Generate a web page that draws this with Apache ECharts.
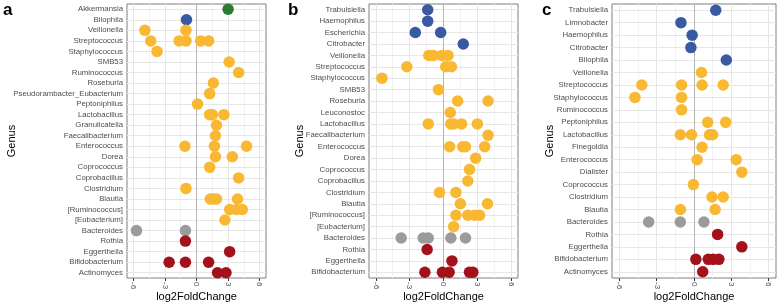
<!DOCTYPE html>
<html>
<head>
<meta charset="utf-8">
<script src="https://cdn.jsdelivr.net/npm/echarts@6/dist/echarts.min.js"></script>
<style>
  html, body { margin: 0; padding: 0; background: #fff; }
  #chart { width: 778px; height: 303px; }
</style>
</head>
<body>
<div id="chart"></div>
<script>
// x ticks shared by the three panels
const xTicks = [-6, -3, 0, 3, 6]
const xMinor = [-4.5, -1.5, 1.5, 4.5]

// panel a
const aGenus = ['Akkermansia', 'Bilophila', 'Veillonella', 'Streptococcus', 'Staphylococcus', 'SMB53',
  'Ruminococcus', 'Roseburia', 'Pseudorambacter_Eubacterium', 'Peptoniphilus', 'Lactobacillus',
  'Granulicatella', 'Faecalibacterium', 'Enterococcus', 'Dorea', 'Coprococcus', 'Coprobacillus',
  'Clostridium', 'Blautia', '[Ruminococcus]', '[Eubacterium]', 'Bacteroides', 'Rothia',
  'Eggerthella', 'Bifidobacterium', 'Actinomyces']
const aGreen = [[3.0, 'Akkermansia']]
const aBlue = [[-0.95, 'Bilophila']]
const aYellow = [
  [-4.9, 'Veillonella'], [-1.0, 'Veillonella'],
  [-4.35, 'Streptococcus'], [-1.65, 'Streptococcus'], [-1.0, 'Streptococcus'], [0.4, 'Streptococcus'], [1.15, 'Streptococcus'],
  [-3.75, 'Staphylococcus'],
  [3.1, 'SMB53'],
  [4.0, 'Ruminococcus'],
  [1.6, 'Roseburia'],
  [1.25, 'Pseudorambacter_Eubacterium'],
  [0.1, 'Peptoniphilus'],
  [1.25, 'Lactobacillus'], [1.5, 'Lactobacillus'], [2.6, 'Lactobacillus'],
  [1.9, 'Granulicatella'],
  [1.8, 'Faecalibacterium'],
  [-1.1, 'Enterococcus'], [1.7, 'Enterococcus'], [4.75, 'Enterococcus'],
  [1.8, 'Dorea'], [3.4, 'Dorea'],
  [1.25, 'Coprococcus'],
  [4.0, 'Coprobacillus'],
  [-1.0, 'Clostridium'],
  [1.3, 'Blautia'], [1.6, 'Blautia'], [1.9, 'Blautia'], [3.9, 'Blautia'],
  [3.15, '[Ruminococcus]'], [3.8, '[Ruminococcus]'], [4.35, '[Ruminococcus]'],
  [2.7, '[Eubacterium]']
]
const aGray = [[-5.7, 'Bacteroides'], [-1.05, 'Bacteroides']]
const aRed = [
  [-1.05, 'Rothia'],
  [3.15, 'Eggerthella'],
  [-2.6, 'Bifidobacterium'], [-1.05, 'Bifidobacterium'], [1.15, 'Bifidobacterium'],
  [2.0, 'Actinomyces'], [2.8, 'Actinomyces']
]

// panel b
const bGenus = ['Trabulsiella', 'Haemophilus', 'Escherichia', 'Citrobacter', 'Veillonella', 'Streptococcus',
  'Staphylococcus', 'SMB53', 'Roseburia', 'Leuconostoc', 'Lactobacillus', 'Faecalibacterium',
  'Enterococcus', 'Dorea', 'Coprococcus', 'Coprobacillus', 'Clostridium', 'Blautia',
  '[Ruminococcus]', '[Eubacterium]', 'Bacteroides', 'Rothia', 'Eggerthella', 'Bifidobacterium']
const bBlue = [
  [-1.4, 'Trabulsiella'], [-1.4, 'Haemophilus'],
  [-2.5, 'Escherichia'], [-0.25, 'Escherichia'],
  [1.75, 'Citrobacter']
]
const bYellow = [
  [-1.3, 'Veillonella'], [-0.9, 'Veillonella'], [-0.15, 'Veillonella'], [0.4, 'Veillonella'],
  [-3.25, 'Streptococcus'], [0.2, 'Streptococcus'], [0.7, 'Streptococcus'],
  [-5.45, 'Staphylococcus'],
  [-0.45, 'SMB53'],
  [1.25, 'Roseburia'], [3.95, 'Roseburia'],
  [0.6, 'Leuconostoc'],
  [-1.35, 'Lactobacillus'], [0.65, 'Lactobacillus'], [0.9, 'Lactobacillus'], [1.6, 'Lactobacillus'], [3.0, 'Lactobacillus'],
  [3.95, 'Faecalibacterium'],
  [0.55, 'Enterococcus'], [1.7, 'Enterococcus'], [1.95, 'Enterococcus'], [3.65, 'Enterococcus'],
  [2.85, 'Dorea'],
  [2.3, 'Coprococcus'],
  [2.15, 'Coprobacillus'],
  [-0.35, 'Clostridium'], [1.1, 'Clostridium'],
  [1.5, 'Blautia'], [3.9, 'Blautia'],
  [1.1, '[Ruminococcus]'], [2.15, '[Ruminococcus]'], [2.75, '[Ruminococcus]'], [3.2, '[Ruminococcus]'],
  [0.9, '[Eubacterium]']
]
const bGray = [[-3.75, 'Bacteroides'], [-1.8, 'Bacteroides'], [-1.35, 'Bacteroides'], [0.65, 'Bacteroides'], [1.95, 'Bacteroides']]
const bRed = [
  [-1.45, 'Rothia'],
  [0.75, 'Eggerthella'],
  [-1.65, 'Bifidobacterium'], [-0.1, 'Bifidobacterium'], [0.5, 'Bifidobacterium'], [2.3, 'Bifidobacterium'], [2.6, 'Bifidobacterium']
]

// panel c
const cGenus = ['Trabulsiella', 'Limnobacter', 'Haemophilus', 'Citrobacter', 'Bilophila', 'Veillonella',
  'Streptococcus', 'Staphylococcus', 'Ruminococcus', 'Peptoniphilus', 'Lactobacillus', 'Finegoldia',
  'Enterococcus', 'Dialister', 'Coprococcus', 'Clostridium', 'Blautia', 'Bacteroides', 'Rothia',
  'Eggerthella', 'Bifidobacterium', 'Actinomyces']
const cBlue = [
  [1.75, 'Trabulsiella'], [-1.05, 'Limnobacter'], [-0.15, 'Haemophilus'],
  [-0.25, 'Citrobacter'], [2.6, 'Bilophila']
]
const cYellow = [
  [0.6, 'Veillonella'],
  [-4.2, 'Streptococcus'], [-1.0, 'Streptococcus'], [0.65, 'Streptococcus'], [2.35, 'Streptococcus'],
  [-4.75, 'Staphylococcus'], [-1.0, 'Staphylococcus'],
  [-1.0, 'Ruminococcus'],
  [1.1, 'Peptoniphilus'], [2.55, 'Peptoniphilus'],
  [-1.1, 'Lactobacillus'], [-0.2, 'Lactobacillus'], [1.25, 'Lactobacillus'], [1.5, 'Lactobacillus'],
  [0.65, 'Finegoldia'],
  [0.25, 'Enterococcus'], [3.4, 'Enterococcus'],
  [3.85, 'Dialister'],
  [-0.05, 'Coprococcus'],
  [1.45, 'Clostridium'], [2.35, 'Clostridium'],
  [-1.1, 'Blautia'], [1.7, 'Blautia']
]
const cGray = [[-3.65, 'Bacteroides'], [-1.1, 'Bacteroides'], [0.8, 'Bacteroides']]
const cRed = [
  [1.9, 'Rothia'],
  [3.85, 'Eggerthella'],
  [0.15, 'Bifidobacterium'], [1.15, 'Bifidobacterium'], [1.55, 'Bifidobacterium'], [2.0, 'Bifidobacterium'],
  [0.7, 'Actinomyces']
]

const colors = {
  green: '#2e7b32',
  blue: '#3a59a3',
  yellow: '#f8b831',
  gray: '#9b9b9b',
  red: '#a3111b'
}

const panels = [
  { letter: 'a', genus: aGenus, left: 127, width: 139, nameGap: 110, letterX: 3,
    groups: [['green', aGreen], ['blue', aBlue], ['yellow', aYellow], ['gray', aGray], ['red', aRed]] },
  { letter: 'b', genus: bGenus, left: 369, width: 149, nameGap: 64, letterX: 288,
    groups: [['blue', bBlue], ['yellow', bYellow], ['gray', bGray], ['red', bRed]] },
  { letter: 'c', genus: cGenus, left: 612, width: 164, nameGap: 57, letterX: 542,
    groups: [['blue', cBlue], ['yellow', cYellow], ['gray', cGray], ['red', cRed]] }
]

const chart = echarts.init(document.getElementById('chart'))

const grid = []
const xAxis = []
const yAxis = []
const series = []
const graphic = []

panels.forEach((p, i) => {
  grid.push({
    left: p.left, top: 4, width: p.width, height: 274,
    outerBoundsMode: 'none',
    show: true, borderColor: '#7f7f7f', borderWidth: 1, backgroundColor: '#fff'
  })
  xAxis.push({
    gridIndex: i,
    type: 'value',
    min: -6.6,
    max: 6.6,
    name: 'log2FoldChange',
    nameLocation: 'middle',
    nameGap: 13,
    nameMoveOverlap: false,
    nameTextStyle: { color: '#000', fontSize: 11, fontFamily: 'Liberation Sans' },
    axisLine: { show: false },
    axisTick: { show: true, length: 3, customValues: xTicks, lineStyle: { color: '#333' } },
    axisLabel: {
      rotate: -90, fontSize: 8, color: '#4d4d4d', margin: 4,
      fontFamily: 'Liberation Sans', customValues: xTicks
    },
    splitLine: { show: false }
  })
  yAxis.push({
    gridIndex: i,
    type: 'category',
    inverse: true,
    data: p.genus,
    name: 'Genus',
    nameLocation: 'middle',
    nameGap: p.nameGap,
    nameMoveOverlap: false,
    nameRotate: 90,
    nameTextStyle: { color: '#000', fontSize: 11, fontFamily: 'Liberation Sans' },
    axisLine: { show: false },
    axisTick: { show: true, length: 3, alignWithLabel: true, lineStyle: { color: '#333' } },
    axisLabel: { fontSize: 7.8, color: '#4d4d4d', margin: 4, fontFamily: 'Liberation Sans', interval: 0 },
    splitLine: { show: false }
  })
  // background grid (minor, major, per genus) and the zero reference line
  const lines = []
  xMinor.forEach(v => lines.push({ xAxis: v, lineStyle: { color: '#f3f3f3', width: 1, type: 'solid' } }))
  xTicks.filter(v => v !== 0).forEach(v => lines.push({ xAxis: v, lineStyle: { color: '#e6e6e6', width: 1, type: 'solid' } }))
  p.genus.forEach(g => lines.push({ yAxis: g, lineStyle: { color: '#e6e6e6', width: 1, type: 'solid' } }))
  lines.push({ xAxis: 0, lineStyle: { color: '#b4b4b4', width: 1, type: 'solid' } })
  series.push({
    type: 'scatter',
    xAxisIndex: i,
    yAxisIndex: i,
    data: [],
    silent: true,
    z: 1,
    markLine: {
      z: 1,
      symbol: 'none',
      silent: true,
      label: { show: false },
      animation: false,
      data: lines
    }
  })
  p.groups.forEach(([key, data]) => {
    series.push({
      type: 'scatter',
      xAxisIndex: i,
      yAxisIndex: i,
      data: data,
      symbolSize: 11.5,
      itemStyle: { color: colors[key], opacity: 1 },
      z: 3
    })
  })
  graphic.push({
    type: 'text',
    left: p.letterX,
    top: 2,
    style: { text: p.letter, fontSize: 17, fontWeight: 'bold', fill: '#000', fontFamily: 'Liberation Sans' }
  })
})

chart.setOption({
  animation: false,
  grid: grid,
  xAxis: xAxis,
  yAxis: yAxis,
  series: series,
  graphic: graphic
})
</script>
</body>
</html>
